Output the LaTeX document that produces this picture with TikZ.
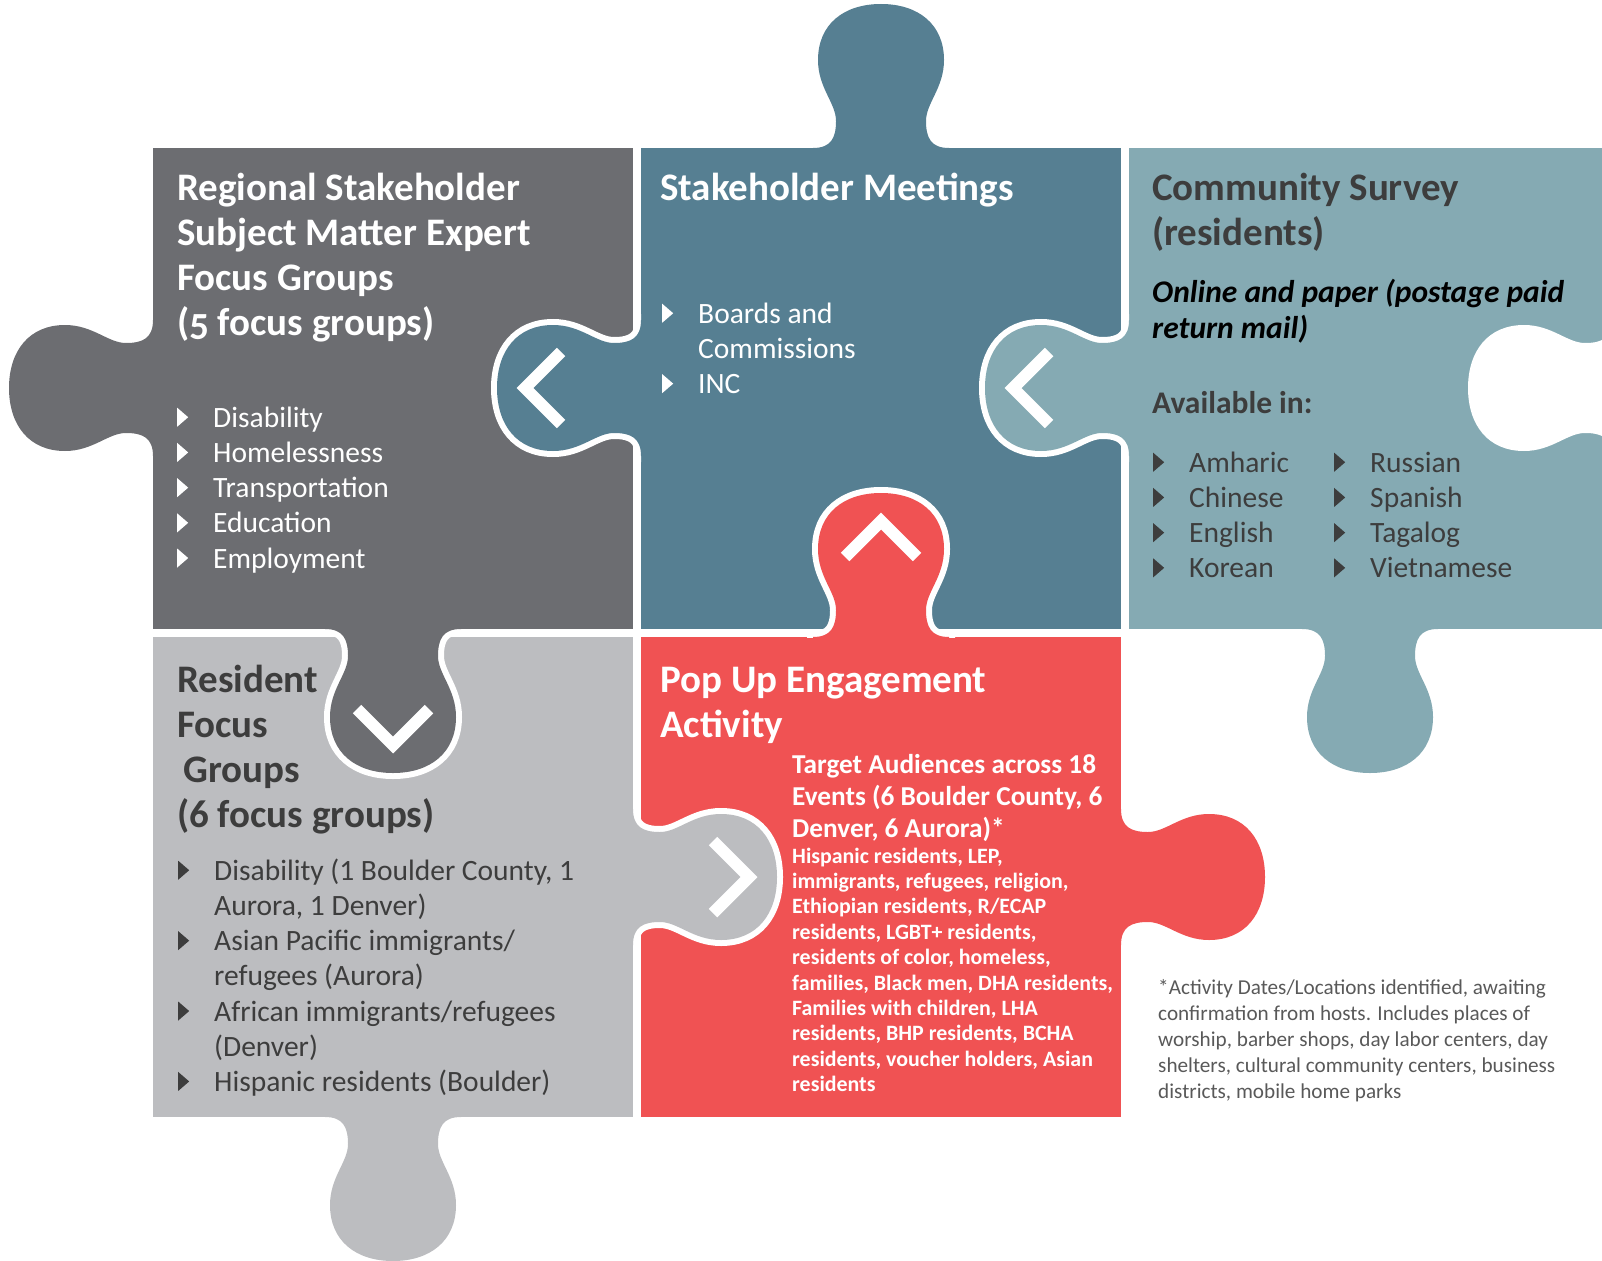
\documentclass[tikz,border=0pt]{standalone}
\usepackage{fontspec}
\setmainfont{Carlito}

\definecolor{pgray}{HTML}{6C6D71}
\definecolor{pblue}{HTML}{567F92}
\definecolor{pteal}{HTML}{85AAB3}
\definecolor{plight}{HTML}{BCBDC0}
\definecolor{pred}{HTML}{F05253}
\definecolor{darktext}{HTML}{3D3D3D}
\definecolor{notetext}{HTML}{595959}

% one puzzle knob, base on the x axis, pointing to -y
\newcommand{\knobshape}{(-68,12) -- (-68,0) .. controls (-50,0) and (-45,-10) .. (-45,-27)
  .. controls (-45,-45) and (-63,-60) .. (-63,-88) .. controls (-63,-124) and (-37,-144) .. (0,-144)
  .. controls (37,-144) and (63,-124) .. (63,-88) .. controls (63,-60) and (45,-45) .. (45,-27)
  .. controls (45,-10) and (50,0) .. (68,0) -- (68,12) -- cycle}
\newcommand{\bul}{\makebox[36pt][l]{\tikz[x=1pt,y=1pt,baseline=0pt]\fill (0,0.5) -- (0,19.5) -- (11,10) -- cycle;}}
\newcommand{\osf}[1]{{\addfontfeature{Numbers=OldStyle}#1}}

\begin{document}
\begin{tikzpicture}[x=1pt,y=-1pt,
  knobline/.style={draw=white,line width=12},
  chev/.style={draw=white,line width=12,line join=miter},
  ttl/.style={anchor=north west,inner sep=0,align=left,font=\fontsize{39}{45}\selectfont\bfseries},
  lst/.style={anchor=north west,inner sep=0,align=left,font=\fontsize{29.5}{35.2}\selectfont}]
\useasboundingbox (0,0) rectangle (1602,1260);

% pieces
\fill[pgray] (153,148) rectangle (633,629);
\fill[pblue] (641,148) rectangle (1121,629);
\fill[pteal] (1129,148) rectangle (1602,629);
\fill[plight] (153,637) rectangle (633,1117);
\fill[pred] (641,637) rectangle (1121,1117);

% knobs on the outside
\fill[pgray, shift={(153,388)}, rotate=90] \knobshape;
\fill[pblue, shift={(881,148)}] \knobshape;
\fill[pteal, shift={(1370,629)}, rotate=180] \knobshape;
\fill[white, shift={(1612,388)}, rotate=90] \knobshape;
\fill[plight, shift={(393,1117)}, rotate=180] \knobshape;
\fill[pred, shift={(1121,877)}, rotate=-90] \knobshape;

% knobs going into the next piece
\begin{scope}[shift={(641,388)}, rotate=90]
\begin{scope} \clip (-110,0) rectangle (110,-170); \draw[knobline] \knobshape; \end{scope}
\fill[pblue] \knobshape;
\draw[chev] (-36,-80) -- (0,-116) -- (36,-80);
\end{scope}
\begin{scope}[shift={(1129,388)}, rotate=90]
\begin{scope} \clip (-110,0) rectangle (110,-170); \draw[knobline] \knobshape; \end{scope}
\fill[pteal] \knobshape;
\draw[chev] (-36,-80) -- (0,-116) -- (36,-80);
\end{scope}
\begin{scope}[shift={(393,629)}, rotate=180]
\begin{scope} \clip (-110,0) rectangle (110,-170); \draw[knobline] \knobshape; \end{scope}
\fill[pgray] \knobshape;
\draw[chev] (-36,-80) -- (0,-116) -- (36,-80);
\end{scope}
\begin{scope}[shift={(633,877)}, rotate=-90]
\begin{scope} \clip (-110,0) rectangle (110,-170); \draw[knobline] \knobshape; \end{scope}
\fill[plight] \knobshape;
\draw[chev] (-36,-80) -- (0,-116) -- (36,-80);
\end{scope}
\begin{scope}[shift={(881,637)}]
\begin{scope} \clip (-110,0) rectangle (110,-170); \draw[knobline] \knobshape; \end{scope}
\fill[pred] \knobshape;
\draw[chev] (-36,-80) -- (0,-116) -- (36,-80);
\end{scope}

% regional stakeholder
\node[ttl, white] (regttl) at (177,168.5) {\strut Regional Stakeholder\\Subject Matter Expert\\Focus Groups\\(\osf{5} focus groups)};
\node[lst, white] (reglst) at (177,402.4) {\strut\bul Disability\\\bul Homelessness\\\bul Transportation\\\bul Education\\\bul Employment};

% stakeholder meetings
\node[ttl, white] (metttl) at (660,168.5) {\strut Stakeholder Meetings};
\node[lst, white] (metlst) at (662,298.4) {\strut\bul Boards and\\\hspace*{36pt}Commissions\\\bul INC};

% community survey
\node[ttl, darktext] (surttl) at (1152,168.5) {\strut Community Survey\\(residents)};
\node[anchor=north west, inner sep=0, align=left, font=\fontsize{31.5}{36}\selectfont\bfseries\itshape] (surmode) at (1152,276.8) {\strut Online and paper (postage paid\\return mail)};
\node[anchor=base west, inner sep=0, darktext, font=\fontsize{31.5}{36}\selectfont\bfseries] (suravail) at (1152,413) {Available in:};
\node[lst, darktext] (surlangA) at (1153,447.4) {\strut\bul Amharic\\\bul Chinese\\\bul English\\\bul Korean};
\node[lst, darktext] (surlangB) at (1334,447.4) {\strut\bul Russian\\\bul Spanish\\\bul Tagalog\\\bul Vietnamese};

% resident focus groups
\node[ttl, darktext] (resttl) at (177,660.5) {\strut Resident\\Focus\\\hspace*{6pt}Groups\\(6 focus groups)};
\node[lst, darktext] (reslst) at (178,855.4) {\strut\bul Disability (1 Boulder County, 1\\\hspace*{36pt}Aurora, 1 Denver)\\\bul Asian Pacific immigrants/\\\hspace*{36pt}refugees (Aurora)\\\bul African immigrants/refugees\\\hspace*{36pt}(Denver)\\\bul Hispanic residents (Boulder)};

% pop up engagement
\node[ttl, white] (popttl) at (660,660.5) {\strut Pop Up Engagement\\Activity};
\node[anchor=north west, inner sep=0, align=left, white, font=\fontsize{27.3}{32}\selectfont\bfseries] (popsub) at (792,750.6) {\strut Target Audiences across 18\\Events (6 Boulder County, 6\\Denver, 6 Aurora)*};
\node[anchor=north west, inner sep=0, align=left, white, font=\fontsize{21.9}{25.4}\selectfont\bfseries] (poplst) at (792,845.2) {\strut Hispanic residents, LEP,\\immigrants, refugees, religion,\\Ethiopian residents, R/ECAP\\residents, LGBT+ residents,\\residents of color, homeless,\\families, Black men, DHA residents,\\Families with children, LHA\\residents, BHP residents, BCHA\\residents, voucher holders, Asian\\residents};

% footnote
\node[anchor=north west, inner sep=0, align=left, notetext, font=\fontsize{21.2}{26}\selectfont] (note) at (1158,975.8) {\strut *Activity Dates/Locations identified, awaiting\\confirmation from hosts. Includes places of\\worship, barber shops, day labor centers, day\\shelters, cultural community centers, business\\districts, mobile home parks};
\end{tikzpicture}
\end{document}
